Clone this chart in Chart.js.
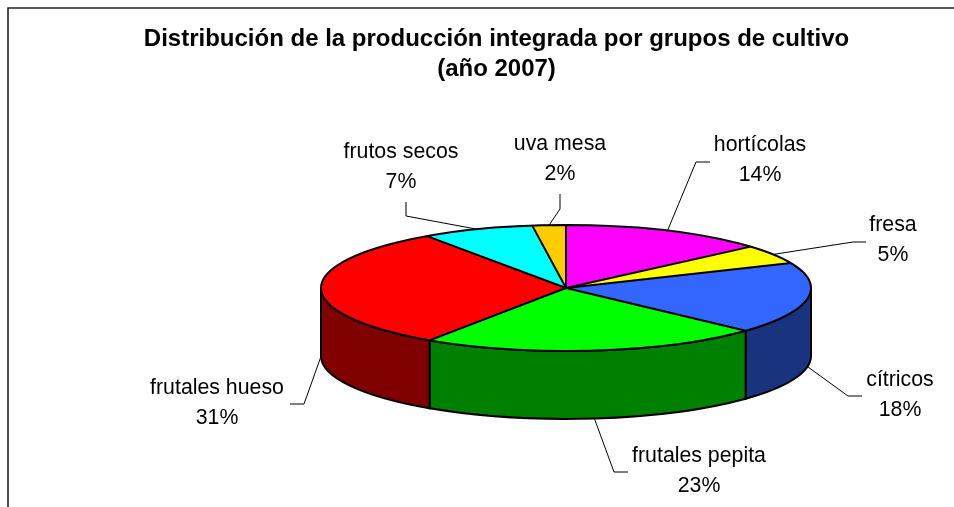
<!DOCTYPE html>
<html lang="es">
<head>
<meta charset="utf-8">
<title>Producción integrada 2007</title>
<script src="https://cdn.jsdelivr.net/npm/chart.js@4"></script>
<style>
  html, body { margin: 0; padding: 0; background: #fff; overflow: hidden; }
  canvas { display: block; }
</style>
</head>
<body>
<canvas id="pieChart" width="954" height="507"></canvas>
<script>
const titleLines = ['Distribución de la producción integrada por grupos de cultivo', '(año 2007)'];
const categories = ['hortícolas', 'fresa', 'cítricos', 'frutales pepita', 'frutales hueso', 'frutos secos', 'uva mesa'];
const shares = [13.6, 4.9, 18.4, 22.5, 31.0, 7.4, 2.2];
const topColors = ['#FF00FF', '#FFFF00', '#3366FF', '#00FF00', '#FF0000', '#00FFFF', '#FFCC00'];
const sideColors = ['#800080', '#808000', '#1A337F', '#008000', '#800000', '#008080', '#806600'];

// where the flattened pie sits on the page
const disc = { x: 566, y: 288, rx: 245, ry: 63, depth: 68 };

// label centre + the bent part of each leader line, same order as categories
const labelSpots = [
  { x: 760, y: 145, line: [[696, 162], [710, 162]] },
  { x: 893, y: 225, line: [[853, 242], [866, 242]] },
  { x: 900, y: 380, line: [[848, 396], [862, 396]] },
  { x: 699, y: 456, line: [[614, 472], [628, 472]] },
  { x: 217, y: 388, line: [[304, 404], [290, 404]] },
  { x: 401, y: 152, line: [[406, 216], [406, 202]] },
  { x: 560, y: 144, line: [[560, 209], [560, 194]] }
];

const pie3d = {
  id: 'pie3d',
  beforeDraw(chart) {
    const ctx = chart.ctx;
    ctx.save();
    ctx.strokeStyle = '#222';
    ctx.lineWidth = 1.6;
    ctx.beginPath();
    ctx.moveTo(8, 507);
    ctx.lineTo(8, 8);
    ctx.lineTo(954, 8);
    ctx.stroke();
    ctx.restore();
  },
  beforeDatasetsDraw(chart) {
    const ctx = chart.ctx;
    const arcs = chart.getDatasetMeta(0).data;

    // walls of the front half
    ctx.save();
    ctx.strokeStyle = '#000';
    ctx.lineWidth = 2;
    arcs.forEach((arc, i) => {
      const from = Math.max(arc.startAngle, 0);
      const to = Math.min(arc.endAngle, Math.PI);
      if (to <= from) return;
      ctx.beginPath();
      ctx.ellipse(disc.x, disc.y, disc.rx, disc.ry, 0, from, to);
      ctx.ellipse(disc.x, disc.y + disc.depth, disc.rx, disc.ry, 0, to, from, true);
      ctx.closePath();
      ctx.fillStyle = sideColors[i];
      ctx.fill();
      ctx.stroke();
    });
    ctx.restore();

    // the library draws the arcs as a circle, squash it into the disc
    const first = arcs[0];
    ctx.save();
    ctx.translate(disc.x, disc.y);
    ctx.scale(disc.rx / first.outerRadius, disc.ry / first.outerRadius);
    ctx.translate(-first.x, -first.y);
  },
  afterDatasetsDraw(chart) {
    const ctx = chart.ctx;
    ctx.restore();
    const arcs = chart.getDatasetMeta(0).data;

    ctx.save();
    ctx.strokeStyle = '#000';
    ctx.lineWidth = 2;
    ctx.lineJoin = 'round';
    ctx.beginPath();
    ctx.ellipse(disc.x, disc.y, disc.rx, disc.ry, 0, 0, Math.PI * 2);
    arcs.forEach(arc => {
      ctx.moveTo(disc.x, disc.y);
      ctx.lineTo(disc.x + disc.rx * Math.cos(arc.startAngle), disc.y + disc.ry * Math.sin(arc.startAngle));
    });
    ctx.stroke();
    ctx.restore();

    // leader lines and labels
    ctx.save();
    ctx.strokeStyle = '#000';
    ctx.lineWidth = 1;
    ctx.fillStyle = '#000';
    ctx.font = '21.3px "Liberation Sans"';
    ctx.textAlign = 'center';
    ctx.textBaseline = 'middle';
    arcs.forEach((arc, i) => {
      const mid = (arc.startAngle + arc.endAngle) / 2;
      const sin = Math.sin(mid);
      const spot = labelSpots[i];
      const below = spot.line[0][1] > disc.y;
      ctx.beginPath();
      ctx.moveTo(disc.x + disc.rx * Math.cos(mid), disc.y + (below ? disc.ry * Math.abs(sin) + disc.depth : disc.ry * sin));
      spot.line.forEach(p => ctx.lineTo(p[0], p[1]));
      ctx.stroke();
      ctx.fillText(categories[i], spot.x, spot.y);
      ctx.fillText(Math.round(shares[i]) + '%', spot.x, spot.y + 30);
    });
    ctx.restore();
  }
};

new Chart(document.getElementById('pieChart'), {
  type: 'pie',
  data: {
    labels: categories,
    datasets: [{
      data: shares,
      backgroundColor: topColors,
      borderWidth: 0,
      clip: false
    }]
  },
  options: {
    responsive: false,
    animation: false,
    layout: { padding: { top: 24, left: 39 } },
    plugins: {
      legend: { display: false },
      tooltip: { enabled: false },
      title: {
        display: true,
        text: titleLines,
        color: '#000',
        font: { family: '"Liberation Sans"', size: 24, weight: 'bold', lineHeight: 1.25 },
        padding: { top: 0, bottom: 10 }
      }
    }
  },
  plugins: [pie3d]
});
</script>
</body>
</html>
